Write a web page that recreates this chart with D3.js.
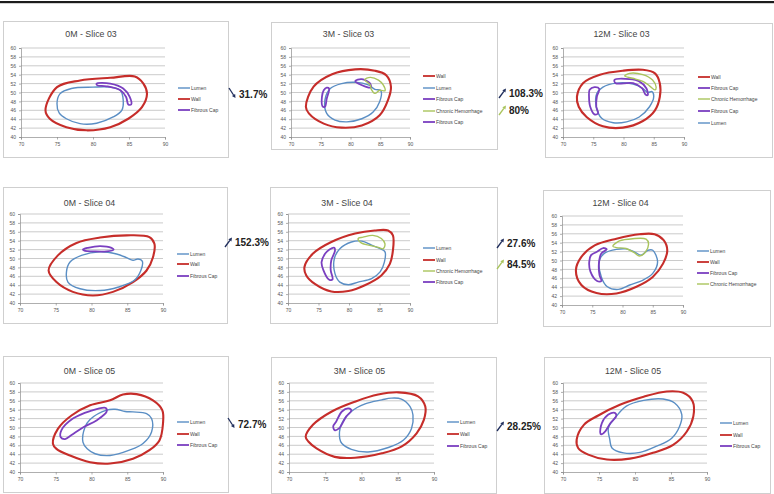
<!DOCTYPE html>
<html>
<head>
<meta charset="utf-8">
<script src="https://cdn.jsdelivr.net/npm/d3@7"></script>
<style>
  body { margin: 0; background: #fff; }
  svg { display: block; font-family: "Liberation Sans", Arial, sans-serif; }
</style>
</head>
<body>
<svg id="fig" width="774" height="494"></svg>
<script>
// axis ticks shared by every panel
const xTicks = [70, 75, 80, 85, 90];
const yTicks = [40, 42, 44, 46, 48, 50, 52, 54, 56, 58, 60];

const titles = ["0M - Slice 03", "3M - Slice 03", "12M - Slice 03",
                "0M - Slice 04", "3M - Slice 04", "12M - Slice 04",
                "0M - Slice 05", "3M - Slice 05", "12M - Slice 05"];

const changeLabels = ["31.7%", "108.3%", "80%", "152.3%", "27.6%", "84.5%", "72.7%", "28.25%"];

// contour outlines, [x, y]
const wall_0M_03 = [[73.4,46.0],[75.0,51.2],[78.2,52.7],[82.4,53.3],[85.8,53.6],[87.0,52.0],[87.5,49.7],[86.8,46.7],[84.9,44.1],[82.4,42.2],[79.1,41.5],[76.3,42.2],[74.0,44.1]];
const lumen_0M_03 = [[75.0,47.5],[75.4,49.7],[77.0,50.9],[80.0,51.2],[82.4,51.2],[83.8,50.5],[84.2,48.2],[84.0,46.0],[82.8,44.5],[80.5,43.1],[78.2,43.0],[76.3,44.1],[75.3,45.4]];
const cap_0M_03 = [[80.5,52.0],[82.4,52.0],[84.2,50.9],[85.1,49.0],[85.3,47.3],[84.9,47.3],[84.6,49.0],[83.8,50.5],[81.9,51.4],[80.6,51.6]];

const wall_3M_03 = [[72.5,46.8],[73.8,51.3],[76.9,54.1],[80.8,55.2],[84.1,54.9],[86.0,53.9],[86.8,51.3],[86.3,48.3],[84.9,44.9],[81.9,42.6],[78.5,42.1],[75.5,43.0],[73.0,45.3]];
const lumen_3M_03 = [[76.0,45.3],[75.7,48.3],[76.6,50.9],[78.5,52.0],[80.8,52.3],[83.0,51.7],[84.1,50.7],[85.1,50.4],[84.9,47.9],[83.8,45.6],[81.9,44.1],[79.4,43.4],[77.4,43.8]];
const capA_3M_03 = [[80.8,52.6],[81.9,53.0],[83.3,52.0],[83.4,51.1],[82.4,51.4],[81.3,52.0]];
const hem_3M_03 = [[82.4,52.9],[83.3,53.4],[84.7,52.8],[85.5,51.7],[85.8,50.4],[84.9,50.5],[84.1,49.8],[83.5,50.7],[83.3,51.7]];
const capB_3M_03 = [[75.5,50.5],[76.0,51.1],[76.4,50.9],[76.0,48.6],[75.7,46.8],[75.3,46.9],[75.2,49.0]];

const wall_12M_03 = [[72.3,49.0],[73.3,52.1],[76.1,54.0],[79.9,54.9],[83.2,55.1],[85.2,54.3],[86.0,52.1],[86.0,49.0],[85.2,46.0],[83.2,43.6],[79.9,42.1],[76.6,42.4],[73.9,44.5],[72.6,46.8]];
const lumen_12M_03 = [[75.5,46.8],[75.6,49.8],[76.6,51.2],[78.8,52.1],[81.6,51.9],[83.2,50.9],[84.0,50.0],[84.7,50.2],[85.0,49.1],[84.3,46.8],[82.6,44.5],[80.5,43.4],[78.3,43.2],[76.4,44.2]];
const capA_12M_03 = [[78.5,52.8],[81.0,53.0],[82.6,52.5],[83.8,50.9],[84.0,49.4],[83.6,49.6],[83.1,50.9],[81.6,52.1],[78.7,52.1]];
const hem_12M_03 = [[80.2,53.7],[81.0,54.3],[83.2,54.0],[84.8,52.8],[85.4,51.2],[85.2,50.6],[84.3,51.5],[83.2,52.5],[81.5,53.2]];
const capB_12M_03 = [[74.4,50.6],[75.2,51.2],[76.0,50.8],[75.6,49.1],[75.5,46.8],[75.8,45.3],[75.2,45.1],[74.5,46.8],[74.3,49.1]];

const wall_0M_04 = [[74.0,47.3],[75.3,50.7],[77.9,53.5],[81.2,54.7],[84.9,55.2],[88.1,54.8],[88.8,53.3],[88.6,50.3],[87.7,47.3],[85.8,44.7],[83.0,42.5],[80.2,41.7],[77.4,42.5],[75.1,44.7]];
const lumen_0M_04 = [[76.5,47.0],[77.0,49.2],[78.6,50.7],[81.2,51.5],[83.5,51.0],[84.9,50.2],[85.8,49.6],[86.5,49.9],[87.1,49.4],[86.9,47.3],[86.0,45.1],[83.8,43.6],[81.2,42.8],[78.4,43.2],[76.7,44.7]];
const cap_0M_04 = [[78.8,52.0],[79.5,52.4],[81.2,52.8],[82.8,52.4],[83.1,52.0],[82.1,51.6],[80.2,51.6],[79.1,51.7]];

const wall_3M_04 = [[72.7,48.1],[74.1,51.1],[77.1,53.7],[81.0,55.6],[84.2,56.3],[86.4,56.3],[87.2,55.2],[87.2,51.8],[86.7,48.8],[85.3,46.2],[82.6,44.0],[79.9,42.7],[77.1,42.6],[74.4,44.3],[73.0,46.2]];
const lumen_3M_04 = [[77.7,46.6],[77.6,50.0],[78.5,52.2],[80.4,53.7],[82.1,53.9],[83.7,53.0],[85.1,52.2],[85.9,51.5],[85.8,49.2],[85.1,47.0],[83.7,45.5],[81.5,44.7],[79.9,44.1],[78.5,44.7]];
const hem_3M_04 = [[81.5,54.5],[82.3,54.8],[83.9,55.2],[85.3,54.5],[85.9,53.3],[85.6,52.2],[84.8,52.5],[83.2,53.0],[82.0,53.5]];
const cap_3M_04 = [[76.8,52.0],[77.6,52.4],[77.7,51.7],[77.1,49.6],[77.0,47.4],[77.3,45.3],[76.7,45.3],[75.8,47.4],[75.5,49.2],[76.1,51.1]];

const wall_12M_04 = [[72.3,47.8],[73.2,50.8],[75.4,53.4],[79.0,54.9],[82.8,55.9],[85.3,55.9],[86.8,54.6],[87.4,52.3],[86.7,49.3],[85.0,46.3],[82.3,44.1],[79.0,42.6],[75.7,42.7],[73.2,44.5]];
const lumen_12M_04 = [[76.5,46.3],[76.2,50.1],[77.1,51.7],[79.0,52.5],[80.6,52.6],[82.0,51.9],[83.1,51.2],[84.2,52.3],[85.0,52.3],[85.8,49.7],[85.0,47.1],[83.4,45.6],[81.2,44.5],[79.3,43.5],[77.5,44.1]];
const hem_12M_04 = [[78.4,53.2],[79.5,54.4],[81.7,54.9],[83.9,54.8],[84.3,53.8],[83.8,51.9],[82.8,51.0],[82.0,51.7],[80.6,52.7],[79.0,52.9]];
const cap_12M_04 = [[75.7,51.9],[76.8,52.8],[77.4,52.5],[76.5,51.6],[76.1,49.3],[76.2,46.7],[76.5,45.4],[75.8,45.4],[74.7,47.5],[74.5,49.7],[74.8,51.2]];

const wall_0M_05 = [[74.6,46.4],[75.3,49.7],[77.2,52.7],[79.8,55.0],[82.6,56.1],[84.4,57.4],[86.3,57.5],[88.6,56.1],[89.9,53.9],[90.0,50.9],[89.5,47.1],[88.1,44.9],[85.8,43.0],[82.6,41.9],[79.8,42.2],[77.0,43.7],[75.1,45.2]];
const lumen_0M_05 = [[78.8,46.7],[79.1,50.1],[79.8,51.8],[82.1,53.9],[83.3,54.1],[84.7,53.6],[85.8,53.5],[87.7,53.1],[88.4,52.0],[88.4,49.0],[87.2,46.4],[85.3,44.9],[82.6,43.7],[80.5,44.1],[79.4,45.2]];
const cap_0M_05 = [[75.8,49.4],[77.4,52.0],[79.8,53.7],[82.0,54.4],[82.1,53.5],[80.7,51.6],[78.8,50.0],[77.2,48.3],[76.3,47.4],[75.7,47.8]];

const wall_3M_05 = [[72.3,47.9],[73.3,50.6],[75.9,53.6],[79.1,55.8],[82.3,57.4],[85.1,57.9],[87.8,57.0],[88.8,54.7],[88.6,51.7],[87.6,48.7],[85.5,45.7],[82.8,44.2],[79.1,43.2],[76.3,43.4],[73.8,45.3],[72.7,46.8]];
const lumen_3M_05 = [[77.0,47.5],[77.2,50.6],[78.6,53.6],[80.5,55.3],[82.8,56.2],[84.1,56.6],[85.5,56.4],[86.7,54.7],[87.1,52.8],[86.9,49.8],[85.8,47.2],[83.7,45.5],[80.9,44.5],[78.6,45.1],[77.3,46.4]];
const cap_3M_05 = [[76.5,51.3],[77.3,53.6],[78.2,54.3],[78.6,53.8],[77.9,52.5],[76.9,49.8],[76.3,49.4],[76.1,50.3]];

const wall_12M_05 = [[71.9,47.3],[72.9,50.6],[74.9,52.7],[77.9,55.1],[81.2,56.9],[84.4,58.1],[86.7,57.8],[88.0,55.9],[88.1,52.5],[87.2,49.1],[85.3,46.1],[82.5,44.3],[79.3,43.0],[76.1,42.8],[73.5,43.9],[72.1,45.4]];
const lumen_12M_05 = [[76.5,47.3],[76.3,49.9],[77.2,52.1],[78.8,54.8],[81.2,56.1],[83.9,56.4],[85.5,55.5],[86.5,52.9],[86.2,50.3],[85.1,47.6],[83.0,45.8],[80.7,44.4],[78.4,44.3],[76.8,45.4]];
const cap_12M_05 = [[75.2,48.6],[75.4,51.0],[76.3,52.9],[77.2,53.3],[77.4,52.6],[76.6,51.0],[75.9,49.2],[75.4,48.5]];

const styles = {
  "Lumen": { color: "#5a8ec4", width: 1.4 },
  "Wall": { color: "#c62d2a", width: 2.1 },
  "Fibrous Cap": { color: "#7a3fc0", width: 1.8 },
  "Chronic Hemorrhage": { color: "#a9c45c", width: 1.4 }
};

// layout: box, plot extents and legend rows (legend order as in the figure)
const panels = [
  { box: [3, 21, 225, 136], px: [21, 165], py: [137, 48], ty: 34, lx: 178, rows: [88, 99, 110],
    series: [["Lumen", lumen_0M_03], ["Wall", wall_0M_03], ["Fibrous Cap", cap_0M_03]] },
  { box: [271, 22, 226, 127], px: [291, 410], py: [137, 48], ty: 34, lx: 423, rows: [76, 88, 99, 111, 122],
    series: [["Wall", wall_3M_03], ["Lumen", lumen_3M_03], ["Fibrous Cap", capA_3M_03], ["Chronic Hemorrhage", hem_3M_03], ["Fibrous Cap", capB_3M_03]] },
  { box: [545, 23, 227, 134], px: [563, 684], py: [137, 48], ty: 34, lx: 698, rows: [77, 88, 99, 111, 123],
    series: [["Wall", wall_12M_03], ["Fibrous Cap", capA_12M_03], ["Chronic Hemorrhage", hem_12M_03], ["Fibrous Cap", capB_12M_03], ["Lumen", lumen_12M_03]] },
  { box: [3, 187, 224, 136], px: [20, 163], py: [303, 214], ty: 203, lx: 177, rows: [254, 264, 276],
    series: [["Lumen", lumen_0M_04], ["Wall", wall_0M_04], ["Fibrous Cap", cap_0M_04]] },
  { box: [270, 187, 227, 136], px: [288, 410], py: [303, 214], ty: 203, lx: 423, rows: [248, 260, 271, 282],
    series: [["Lumen", lumen_3M_04], ["Wall", wall_3M_04], ["Chronic Hemorrhage", hem_3M_04], ["Fibrous Cap", cap_3M_04]] },
  { box: [543, 190, 227, 136], px: [562, 683], py: [305, 216], ty: 203, lx: 697, rows: [251, 262, 273, 284],
    series: [["Lumen", lumen_12M_04], ["Wall", wall_12M_04], ["Fibrous Cap", cap_12M_04], ["Chronic Hemorrhage", hem_12M_04]] },
  { box: [3, 356, 225, 136], px: [20, 163], py: [472, 383], ty: 371, lx: 177, rows: [422, 434, 445],
    series: [["Lumen", lumen_0M_05], ["Wall", wall_0M_05], ["Fibrous Cap", cap_0M_05]] },
  { box: [271, 357, 225, 136], px: [289, 434], py: [472, 383], ty: 371, lx: 447, rows: [422, 434, 446],
    series: [["Lumen", lumen_3M_05], ["Wall", wall_3M_05], ["Fibrous Cap", cap_3M_05]] },
  { box: [544, 357, 226, 136], px: [563, 707], py: [472, 383], ty: 371, lx: 720, rows: [423, 435, 446],
    series: [["Lumen", lumen_12M_05], ["Wall", wall_12M_05], ["Fibrous Cap", cap_12M_05]] }
];

// percentage annotations between panels
const notes = [
  { x: 239, y: 94, dir: "down", color: "#1f2d5c" },
  { x: 509, y: 93, dir: "up", color: "#1f2d5c" },
  { x: 509, y: 110, dir: "up", color: "#a9c45c" },
  { x: 235, y: 242, dir: "up", color: "#1f2d5c" },
  { x: 507, y: 243, dir: "up", color: "#1f2d5c" },
  { x: 507, y: 264, dir: "up", color: "#a9c45c" },
  { x: 238, y: 424, dir: "down", color: "#1f2d5c" },
  { x: 507, y: 426, dir: "up", color: "#1f2d5c" }
];

const svg = d3.select("#fig");
svg.append("rect").attr("width", 774).attr("height", 494).attr("fill", "#fff");
svg.append("rect").attr("x", 0).attr("y", 1).attr("width", 774).attr("height", 2.2).attr("fill", "#1c1c1c");

function rank(name) {
  return name === "Wall" ? 0 : name === "Lumen" ? 1 : 2;
}

panels.forEach((p, i) => {
  const g = svg.append("g");
  const [bx, by, bw, bh] = p.box;

  g.append("rect")
    .attr("x", bx + 0.5).attr("y", by + 0.5)
    .attr("width", bw).attr("height", bh)
    .attr("fill", "#fff").attr("stroke", "#cfcfcf");

  const x = d3.scaleLinear().domain([70, 90]).range(p.px);
  const y = d3.scaleLinear().domain([40, 60]).range(p.py);

  g.append("text")
    .attr("x", (p.px[0] + p.px[1]) / 2 - 2)
    .attr("y", p.ty)
    .attr("text-anchor", "middle")
    .attr("dominant-baseline", "central")
    .attr("font-size", 8.8)
    .attr("fill", "#444")
    .text(titles[i]);

  // horizontal gridlines
  g.selectAll(".grid")
    .data(yTicks.filter(v => v !== 40))
    .enter().append("line")
    .attr("x1", p.px[0]).attr("x2", p.px[1])
    .attr("y1", d => y(d)).attr("y2", d => y(d))
    .attr("stroke", "#b4b4b4").attr("stroke-width", 0.7);

  const xAxis = g.append("g")
    .attr("transform", `translate(0, ${p.py[0]})`)
    .call(d3.axisBottom(x).tickValues(xTicks).tickSize(2.5).tickPadding(3));
  const yAxis = g.append("g")
    .attr("transform", `translate(${p.px[0]}, 0)`)
    .call(d3.axisLeft(y).tickValues(yTicks).tickSize(2).tickPadding(3));

  [xAxis, yAxis].forEach(a => {
    a.select(".domain").attr("stroke", "#8c8c8c").attr("stroke-width", 0.7);
    a.selectAll(".tick line").attr("stroke", "#8c8c8c").attr("stroke-width", 0.7);
    a.selectAll("text").attr("font-size", 5).attr("fill", "#555")
      .attr("font-family", "Liberation Sans, Arial, sans-serif");
  });

  const line = d3.line()
    .x(d => x(d[0]))
    .y(d => y(d[1]))
    .curve(d3.curveCatmullRomClosed.alpha(0.5));

  // wall and lumen first, lesion components on top
  const order = p.series.slice().sort((a, b) => rank(a[0]) - rank(b[0]));
  order.forEach(([name, pts]) => {
    g.append("path")
      .attr("d", line(pts))
      .attr("fill", "none")
      .attr("stroke", styles[name].color)
      .attr("stroke-width", styles[name].width)
      .attr("stroke-linejoin", "round");
  });

  p.series.forEach(([name], k) => {
    const ry = p.rows[k];
    g.append("line")
      .attr("x1", p.lx).attr("x2", p.lx + 12)
      .attr("y1", ry).attr("y2", ry)
      .attr("stroke", styles[name].color)
      .attr("stroke-width", Math.min(styles[name].width, 1.8));
    g.append("text")
      .attr("x", p.lx + 13).attr("y", ry)
      .attr("dominant-baseline", "central")
      .attr("font-size", 5)
      .attr("fill", "#444")
      .text(name);
  });
});

notes.forEach((n, i) => {
  const g = svg.append("g");
  const tail = n.dir === "up" ? [n.x - 10, n.y + 5] : [n.x - 10, n.y - 6];
  const head = n.dir === "up" ? [n.x - 3, n.y - 4.5] : [n.x - 3.5, n.y + 4];
  const dx = head[0] - tail[0], dy = head[1] - tail[1];
  const len = Math.hypot(dx, dy);
  const ux = dx / len, uy = dy / len;
  const hl = 3.6, hw = 1.9;
  const base = [head[0] - ux * hl, head[1] - uy * hl];

  g.append("line")
    .attr("x1", tail[0]).attr("y1", tail[1])
    .attr("x2", base[0]).attr("y2", base[1])
    .attr("stroke", n.color).attr("stroke-width", 1.3);
  g.append("path")
    .attr("d", d3.line()([
      head,
      [base[0] - uy * hw, base[1] + ux * hw],
      [base[0] + uy * hw, base[1] - ux * hw]
    ]) + "Z")
    .attr("fill", n.color);

  g.append("text")
    .attr("x", n.x).attr("y", n.y)
    .attr("dominant-baseline", "central")
    .attr("font-size", 10)
    .attr("font-weight", "bold")
    .attr("fill", "#222")
    .text(changeLabels[i]);
});
</script>
</body>
</html>
